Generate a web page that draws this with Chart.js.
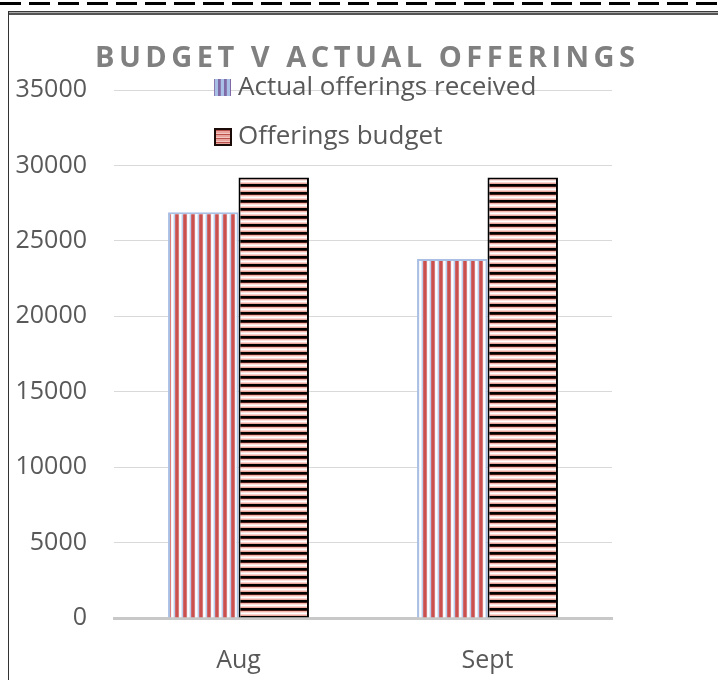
<!DOCTYPE html>
<html>
<head>
<meta charset="utf-8">
<script src="https://cdn.jsdelivr.net/npm/chart.js@4/dist/chart.umd.min.js"></script>
<style>
  html, body { margin: 0; padding: 0; background: #fff; }
  #wrap { position: relative; width: 718px; height: 680px; overflow: hidden; }
  #chart { position: absolute; left: 0; top: 0; }
  .dash { position: absolute; left: 0; top: 2px; width: 718px; height: 3px;
    background: repeating-linear-gradient(90deg, #000 0 21px, transparent 21px 29px); }
  .frame-top { position: absolute; left: 8px; top: 11px; width: 710px; height: 1px;
    border-top: 1px solid #3a3a3a; border-bottom: 2px solid #555; background: #aaa; }
  .frame-left { position: absolute; left: 8px; top: 11px; width: 1px; height: 680px; background: #333; }
</style>
</head>
<body>
<div id="wrap">
  <canvas id="chart" width="718" height="680"></canvas>
  <div class="dash"></div>
  <div class="frame-top"></div>
  <div class="frame-left"></div>
</div>
<script>
const chartTitle = 'BUDGET V ACTUAL OFFERINGS';
const categories = ['Aug', 'Sept'];
const seriesNames = ['Actual offerings received', 'Offerings budget'];
const actualOfferings = [26900, 23800];
const offeringsBudget = [29200, 29200];
const yMax = 35000;
const yStep = 5000;

const textColor = '#595959';
const fontFamily = '"Open Sans", "Noto Sans", sans-serif';

// 8px stripe tiles, like the Excel pattern fills
function stripePattern(colors, vertical) {
  const c = document.createElement('canvas');
  c.width = colors.length;
  c.height = colors.length;
  const g = c.getContext('2d');
  for (let i = 0; i < colors.length; i++) {
    g.fillStyle = colors[i];
    if (vertical) g.fillRect(i, 0, 1, colors.length);
    else g.fillRect(0, i, colors.length, 1);
  }
  return g.createPattern(c, 'repeat');
}

const ctx = document.querySelector('#chart').getContext('2d');
const actualFill = stripePattern(['#c9504e', '#c9504e', '#d97b79', '#f3f3f8', '#ffffff', '#e3ebf7', '#bccfec', '#cf6a6c'], true);
const budgetFill = stripePattern(['#000000', '#000000', '#4a1c18', '#f2b4ac', '#fbe1dd', '#ffffff', '#f8d3cd', '#e9a49c'], false);
const actualKey = stripePattern(['#a9c0e6', '#a9c0e6', '#7e6aa6', '#7e6aa6', '#8c7ab0', '#a9c0e6'], true);
const budgetKey = stripePattern(['#e9a39c', '#f4c6c0', '#b8504c', '#e9a39c'], false);

// title and legend drawn by hand so they can sit where Excel put them
const decorations = {
  id: 'decorations',
  afterDraw(chart) {
    const c = chart.ctx;
    c.save();

    c.font = 'bold 29px ' + fontFamily;
    c.fillStyle = '#808080';
    c.textBaseline = 'alphabetic';
    c.textAlign = 'left';
    const plain = c.measureText(chartTitle).width;
    const spacing = (540 - plain) / (chartTitle.length - 1);
    c.letterSpacing = spacing + 'px';
    c.fillText(chartTitle, 95, 67);
    c.letterSpacing = '0px';

    c.font = '26px ' + fontFamily;
    // item 1
    c.fillStyle = actualKey;
    c.fillRect(214, 79, 17, 17);
    c.fillStyle = textColor;
    c.fillText(seriesNames[0], 238, 95);
    // item 2
    c.fillStyle = budgetKey;
    c.fillRect(214, 128, 18, 18);
    c.strokeStyle = '#1a0a08';
    c.lineWidth = 2;
    c.strokeRect(215, 129, 16, 16);
    c.fillStyle = textColor;
    c.fillText(seriesNames[1], 238, 144);

    c.restore();
  }
};

new Chart(ctx, {
  type: 'bar',
  data: {
    labels: categories,
    datasets: [
      {
        label: seriesNames[0],
        data: actualOfferings,
        backgroundColor: actualFill,
        borderColor: '#a9bfe4',
        borderWidth: 2,
      },
      {
        label: seriesNames[1],
        data: offeringsBudget,
        backgroundColor: budgetFill,
        borderColor: '#000000',
        borderWidth: 2,
      },
    ],
  },
  options: {
    responsive: false,
    animation: false,
    layout: {
      padding: { top: 90, right: 106, bottom: 0, left: 0 }
    },
    datasets: {
      bar: { categoryPercentage: 0.566, barPercentage: 1.0 }
    },
    plugins: {
      legend: { display: false },
      title: { display: false },
      tooltip: { enabled: false },
    },
    scales: {
      x: {
        grid: { display: false, drawTicks: false },
        border: { display: true, color: '#c8c8c8', width: 3 },
        ticks: {
          color: textColor,
          font: { family: fontFamily, size: 25 },
          padding: 28,
        },
        afterFit(scale) { scale.height = 62; },
      },
      y: {
        min: 0,
        max: yMax,
        border: { display: false },
        grid: {
          color: '#d9d9d9',
          lineWidth: 1,
          drawTicks: false,
        },
        ticks: {
          stepSize: yStep,
          color: textColor,
          font: { family: fontFamily, size: 25 },
          padding: 27,
          callback: (v) => String(v),
        },
        afterFit(scale) { scale.width = 114; },
      },
    },
  },
  plugins: [decorations],
});
</script>
</body>
</html>
